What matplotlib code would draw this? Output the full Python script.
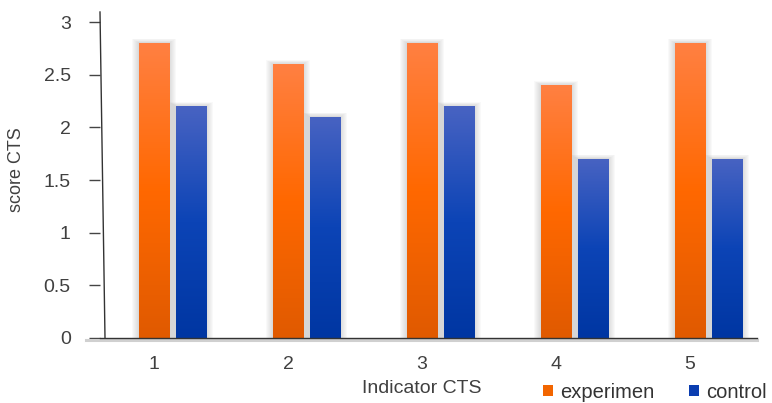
import numpy as np
import matplotlib
matplotlib.use("Agg")
import matplotlib.pyplot as plt
from matplotlib.colors import LinearSegmentedColormap
from matplotlib.patches import Rectangle, Patch
from matplotlib.lines import Line2D

plt.rcParams['font.family'] = ['Liberation Sans', 'DejaVu Sans']

categories = ["1", "2", "3", "4", "5"]
experimen = [2.8, 2.6, 2.8, 2.4, 2.8]
control = [2.2, 2.1, 2.2, 1.7, 1.7]
y_ticks = [0, 0.5, 1, 1.5, 2, 2.5, 3]
y_tick_labels = ["0", "0.5", "1", "1.5", "2", "2.5", "3"]

W, H = 772, 403
fig = plt.figure(figsize=(W / 100, H / 100), dpi=100)
ax_l, ax_r, ax_b, ax_t = 100, 757, 338, 12
ax = fig.add_axes([ax_l / W, (H - ax_b) / H, (ax_r - ax_l) / W, (ax_b - ax_t) / H])

bar_w = 0.225
offset = 0.276
x = np.arange(1, len(categories) + 1)
xlim = (0.597, 5.5)
ylim = (0, 3.095)
ax.set_xlim(*xlim)
ax.set_ylim(*ylim)

# data units per pixel, used for the soft shadow around bars
px_x = (xlim[1] - xlim[0]) / (ax_r - ax_l)
px_y = (ylim[1] - ylim[0]) / (ax_b - ax_t)

orange_cmap = LinearSegmentedColormap.from_list(
    "org", ["#E05A00", "#FF6800", "#FF8042"])
blue_cmap = LinearSegmentedColormap.from_list(
    "blu", ["#0036A2", "#0C44B6", "#4863C2"])
grad = np.linspace(0, 1, 256).reshape(-1, 1)


def gradient_bars(xpos, vals, cmap):
    bars = ax.bar(xpos, vals, width=bar_w, color="none", edgecolor="none", zorder=3)
    for b in bars:
        x0, w, h = b.get_x(), b.get_width(), b.get_height()
        # blurred grey halo
        for k in range(7, 0, -1):
            ax.add_patch(Rectangle((x0 - k * px_x, 0), w + 2 * k * px_x, h + k * px_y * 0.6,
                                   facecolor="#808080", edgecolor="none",
                                   alpha=0.045, zorder=2))
        im = ax.imshow(grad, extent=(x0, x0 + w, 0, h), origin="lower",
                       cmap=cmap, aspect="auto", zorder=3, interpolation="bilinear")
        im.set_clip_path(b)
    return bars


gradient_bars(x, experimen, orange_cmap)
gradient_bars(x + offset, control, blue_cmap)
ax.set_xlim(*xlim)
ax.set_ylim(*ylim)

for s in ["top", "right", "left"]:
    ax.spines[s].set_visible(False)
ax.spines["bottom"].set_color("#333333")
ax.spines["bottom"].set_linewidth(1.0)
ax.spines["bottom"].set_zorder(5)

# slightly slanted value axis line
ax.add_line(Line2D([5 / (ax_r - ax_l), 0], [0, 1], transform=ax.transAxes,
                   color="#333333", lw=1.0, clip_on=False, zorder=5))
# light base shelf under the category axis
ax.add_line(Line2D([-14 / (ax_r - ax_l), 1], [-2 / (ax_b - ax_t)] * 2,
                   transform=ax.transAxes, color="#d0d0d0", lw=2.2,
                   clip_on=False, zorder=4))

ax.set_yticks(y_ticks)
ax.set_yticklabels(y_tick_labels)
ax.tick_params(axis="y", length=8, width=1.0, color="#444444", pad=13,
               labelsize=14, labelcolor="#404040", direction="out")
ax.set_xticks(x)
ax.set_xticklabels(categories)
ax.tick_params(axis="x", length=0, pad=13, labelsize=14, labelcolor="#404040")

ax.set_ylabel("score CTS", fontsize=13, color="#404040")
ax.yaxis.set_label_coords(-75 / (ax_r - ax_l), 0.515)
ax.set_xlabel("Indicator CTS", fontsize=14, color="#404040")
ax.xaxis.set_label_coords(0.49, -42 / (ax_b - ax_t))

handles = [Patch(facecolor="#F26500", edgecolor="none", label="experimen"),
           Patch(facecolor="#0A3DB0", edgecolor="none", label="control")]
fig.legend(handles=handles, ncol=2, frameon=False, fontsize=14.5,
           loc="center left", bbox_to_anchor=(529 / W, 1 - 392 / H),
           handlelength=0.5, handleheight=0.5, handletextpad=0.35,
           columnspacing=1.7, labelcolor="#333333", borderpad=0.2)

fig.savefig("out.png", dpi=100)
